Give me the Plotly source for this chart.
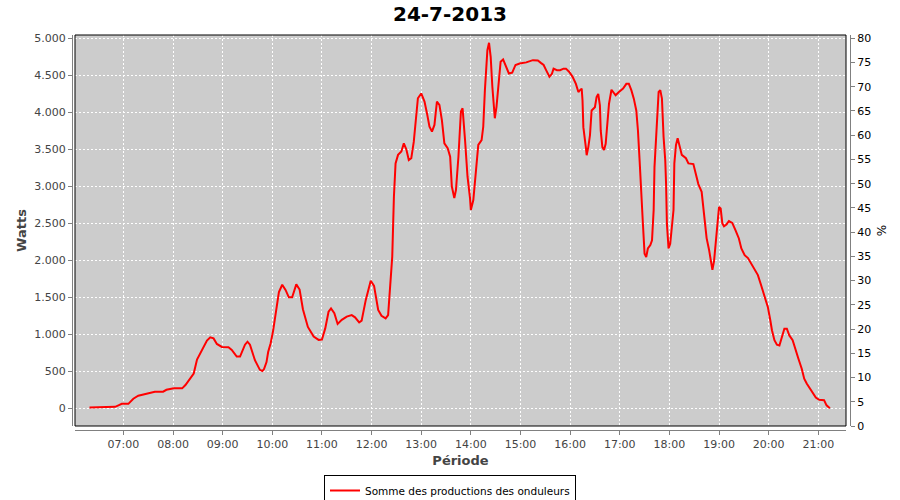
import plotly.graph_objects as go

DAY = "2013-07-24"
title_text = "24-7-2013"
series_name = "Somme des productions des onduleurs"

times = [
    "06:19", "06:25", "06:34", "06:36", "06:50", "06:54", "06:58", "07:06", "07:08", "07:12",
    "07:18", "07:26", "07:32", "07:38", "07:48", "07:52", "08:01", "08:11", "08:15", "08:21",
    "08:25", "08:29", "08:33", "08:37", "08:41", "08:45", "08:49", "08:53", "08:59", "09:07",
    "09:11", "09:17", "09:21", "09:27", "09:30", "09:33", "09:39", "09:45", "09:48", "09:50",
    "09:53", "09:55", "09:58", "10:01", "10:05", "10:08", "10:12", "10:16", "10:20", "10:24",
    "10:29", "10:33", "10:37", "10:43", "10:50", "10:56", "11:00", "11:04", "11:08", "11:11",
    "11:15", "11:19", "11:24", "11:30", "11:36", "11:40", "11:45", "11:48", "11:53", "11:59",
    "12:03", "12:08", "12:12", "12:17", "12:20", "12:22", "12:25", "12:27", "12:29", "12:32",
    "12:36", "12:39", "12:42", "12:45", "12:48", "12:51", "12:53", "12:56", "13:00", "13:04",
    "13:07", "13:10", "13:13", "13:16", "13:19", "13:22", "13:25", "13:28", "13:32", "13:35",
    "13:37", "13:40", "13:42", "13:45", "13:48", "13:50", "13:53", "13:56", "13:59", "14:00",
    "14:03", "14:06", "14:09", "14:13", "14:15", "14:17", "14:20", "14:22", "14:24", "14:26",
    "14:29", "14:31", "14:33", "14:36", "14:39", "14:42", "14:46", "14:50", "14:54", "14:59",
    "15:07", "15:15", "15:21", "15:25", "15:28", "15:31", "15:35", "15:38", "15:40", "15:44",
    "15:48", "15:52", "15:55", "15:59", "16:03", "16:07", "16:10", "16:12", "16:14", "16:15",
    "16:16", "16:19", "16:20", "16:22", "16:24", "16:26", "16:30", "16:32", "16:34", "16:36",
    "16:37", "16:39", "16:41", "16:43", "16:45", "16:47", "16:50", "16:52", "16:55", "16:59",
    "17:04", "17:08", "17:11", "17:14", "17:17", "17:20", "17:22", "17:24", "17:26", "17:28",
    "17:30", "17:32", "17:34", "17:37", "17:39", "17:41", "17:42", "17:45", "17:47", "17:49",
    "17:51", "17:53", "17:55", "17:56", "17:57", "17:59", "18:01", "18:03", "18:05", "18:06",
    "18:08", "18:10", "18:12", "18:15", "18:20", "18:23", "18:29", "18:32", "18:35", "18:39",
    "18:41", "18:43", "18:45", "18:48", "18:50", "18:52", "18:54", "18:56", "18:58", "19:00",
    "19:02", "19:04", "19:06", "19:09", "19:12", "19:16", "19:20", "19:24", "19:27", "19:31",
    "19:35", "19:39", "19:43", "19:47", "19:51", "19:55", "19:59", "20:02", "20:04", "20:07",
    "20:10", "20:13", "20:16", "20:19", "20:22", "20:25", "20:29", "20:32", "20:36", "20:40",
    "20:43", "20:46", "20:50", "20:54", "20:57", "21:01", "21:07", "21:10", "21:14",
]
watts = [
    10, 10, 10, 20, 20, 40, 60, 60, 80, 130,
    170, 190, 200, 225, 225, 250, 270, 270, 315, 405,
    470, 660, 740, 830, 915, 960, 945, 870, 830, 825,
    790, 700, 700, 860, 900, 860, 650, 520, 505, 530,
    625, 760, 880, 1050, 1320, 1570, 1670, 1600, 1500, 1500,
    1675, 1605, 1340, 1100, 970, 925, 930, 1080, 1305, 1350,
    1285, 1140, 1195, 1240, 1260, 1230, 1160, 1185, 1465, 1725,
    1655, 1330, 1250, 1215, 1260, 1555, 2050, 2860, 3310, 3425,
    3470, 3580, 3500, 3355, 3380, 3600, 3850, 4190, 4255, 4145,
    3985, 3805, 3740, 3830, 4145, 4100, 3895, 3580, 3515, 3400,
    3000, 2840, 2950, 3400, 4010, 4055, 3625, 3130, 2840, 2680,
    2815, 3220, 3560, 3625, 3805, 4300, 4840, 4940, 4750, 4345,
    3920, 4075, 4345, 4685, 4715, 4640, 4525, 4535, 4640, 4660,
    4675, 4705, 4700, 4665, 4640, 4570, 4480, 4520, 4590, 4570,
    4570, 4590, 4590, 4545, 4480, 4385, 4275, 4300, 4320, 4160,
    3800, 3530, 3420, 3530, 3690, 4025, 4070, 4205, 4250, 4095,
    3755, 3530, 3490, 3575, 3845, 4115, 4305, 4275, 4230, 4275,
    4320, 4385, 4385, 4300, 4185, 4025, 3755, 3350, 2990, 2495,
    2090, 2045, 2160, 2205, 2270, 2680, 3260, 3780, 4275, 4300,
    4185, 3665, 3350, 3035, 2495, 2160, 2225, 2450, 2680, 3310,
    3560, 3650, 3560, 3425, 3380, 3310, 3300, 3170, 3030, 2925,
    2700, 2480, 2300, 2140, 2005, 1870, 1990, 2225, 2520, 2720,
    2700, 2500, 2460, 2485, 2530, 2505, 2405, 2295, 2160, 2070,
    2030, 1955, 1885, 1800, 1660, 1505, 1370, 1190, 1055, 920,
    860, 850, 965, 1075, 1075, 985, 920, 805, 670, 535,
    400, 335, 265, 200, 145, 115, 110, 40, 0,
]

watts_ticks = list(range(0, 5001, 500))
watts_labels = [f"{v:,}".replace(",", ".") for v in watts_ticks]
pct_ticks = list(range(0, 81, 5))

x = [f"{DAY} {t}" for t in times]

FONT = "DejaVu Sans"
TICK_COLOR = "#444444"

fig = go.Figure()
fig.add_trace(go.Scatter(
    x=x, y=watts, mode="lines", name=series_name,
    line=dict(color="#FF0000", width=2),
    xaxis="x", yaxis="y",
))
# empty trace so the secondary (%) axis is drawn
fig.add_trace(go.Scatter(
    x=[x[0]], y=[None], mode="lines", showlegend=False, hoverinfo="skip",
    xaxis="x", yaxis="y2",
))

fig.update_layout(
    width=900, height=500,
    margin=dict(l=72, r=50, t=35, b=70, autoexpand=False),
    paper_bgcolor="white",
    plot_bgcolor="#CCCCCC",
    title=dict(text="<b>" + title_text + "</b>", x=0.5, xanchor="center",
               y=1 - 7 / 500, yanchor="top", automargin=False,
               font=dict(family=FONT, size=20, color="black")),
    font=dict(family=FONT, size=11, color=TICK_COLOR),
    xaxis=dict(
        type="date", automargin=False,
        domain=[3 / 778, 774 / 778],
        anchor="free", position=0,
        range=[f"{DAY} 06:01:30", f"{DAY} 21:33:30"],
        tickformat="%H:%M", dtick=3600000, tick0=f"{DAY} 00:00",
        ticks="outside", ticklen=4, tickcolor="#808080",
        showline=True, linecolor="#808080", linewidth=1,
        showgrid=True, gridcolor="white", gridwidth=1, griddash="2px,2px",
        zeroline=False,
        tickfont=dict(family=FONT, size=11, color=TICK_COLOR),
        title=dict(text="<b>Période</b>", font=dict(family=FONT, size=13, color=TICK_COLOR),
                   standoff=5),
    ),
    yaxis=dict(
        domain=[4 / 395, 1], automargin=False,
        anchor="free", position=0,
        range=[-239, 5045],
        tickvals=watts_ticks, ticktext=watts_labels,
        ticks="outside", ticklen=4, tickcolor="#808080",
        showline=True, linecolor="#808080", linewidth=1,
        showgrid=True, gridcolor="white", gridwidth=1, griddash="2px,2px",
        zeroline=False,
        tickfont=dict(family=FONT, size=11, color=TICK_COLOR),
        title=dict(text="<b>Watts</b>", font=dict(family=FONT, size=13, color=TICK_COLOR),
                   standoff=3),
    ),
    yaxis2=dict(
        overlaying="y", side="right", automargin=False,
        anchor="free", position=1,
        range=[0, 80.68],
        tickvals=pct_ticks,
        ticks="outside", ticklen=4, tickcolor="#808080",
        showline=True, linecolor="#808080", linewidth=1,
        showgrid=False, zeroline=False,
        tickfont=dict(family=FONT, size=11, color="black"),
        title=dict(text="%", font=dict(family=FONT, size=12, color="black"), standoff=7),
    ),
    legend=dict(
        orientation="h", x=(450 - 72) / 778, xanchor="center",
        y=(430 - 475) / 395, yanchor="top",
        bordercolor="black", borderwidth=1, bgcolor="white",
        font=dict(family=FONT, size=10.5, color="black"),
        itemwidth=30, tracegroupgap=0,
    ),
    showlegend=True,
    shapes=[dict(type="rect", xref="x domain", yref="y domain", x0=0, x1=1, y0=0, y1=1,
                 line=dict(color="black", width=1), fillcolor="rgba(0,0,0,0)", layer="above")],
)

fig.write_html("out.html", config={"displayModeBar": False},
               post_script="document.body.style.margin='0px';document.body.style.padding='0px';")
